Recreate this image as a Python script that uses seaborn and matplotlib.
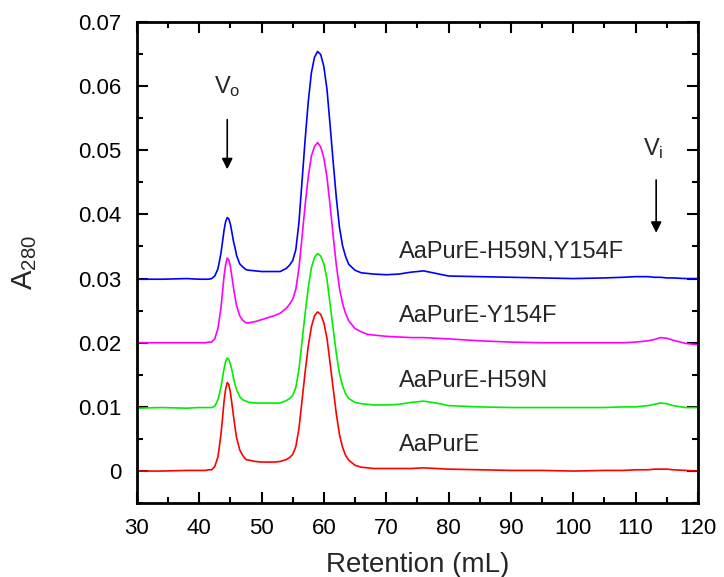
import pandas as pd
import seaborn as sns
from matplotlib import pyplot as plt
from matplotlib.ticker import MultipleLocator

# elution volume (mL), shared by all four traces
retention = [30, 34, 38, 40, 41, 41.5, 42, 42.5, 43, 43.25, 43.5, 43.75, 44, 44.25,
             44.5, 44.75, 45, 45.25, 45.5, 45.75, 46, 46.5, 47, 47.5, 48, 49, 50, 51,
             52, 53, 54, 54.5, 55, 55.5, 56, 56.5, 57, 57.5, 58, 58.5, 59, 59.5, 60,
             60.5, 61, 61.5, 62, 62.5, 63, 63.5, 64, 65, 66, 67, 68, 70, 72, 74, 76,
             78, 80, 85, 90, 95, 100, 105, 108, 110, 112, 113, 114, 115, 116, 118, 120]

# A280 (traces already offset in the original figure)
aapure = [0.0000, 0.0000, 0.0001, 0.0001, 0.0001, 0.0002, 0.0002, 0.0007, 0.0022, 0.0039,
          0.0058, 0.0083, 0.0110, 0.0128, 0.0138, 0.0135, 0.0123, 0.0105, 0.0086, 0.0068,
          0.0052, 0.0033, 0.0024, 0.0018, 0.0017, 0.0015, 0.0014, 0.0014, 0.0014, 0.0015,
          0.0018, 0.0021, 0.0026, 0.0038, 0.0066, 0.0110, 0.0155, 0.0195, 0.0225, 0.0242,
          0.0248, 0.0244, 0.0231, 0.0207, 0.0168, 0.0128, 0.0089, 0.0057, 0.0037, 0.0024,
          0.0017, 0.0009, 0.0006, 0.0005, 0.0004, 0.0004, 0.0004, 0.0004, 0.0005, 0.0004,
          0.0003, 0.0002, 0.0001, 0.0001, 0.0000, 0.0001, 0.0001, 0.0002, 0.0002, 0.0003,
          0.0003, 0.0003, 0.0002, 0.0001, 0.0000]

h59n = [0.0098, 0.0099, 0.0098, 0.0099, 0.0099, 0.0099, 0.0099, 0.0101, 0.0111, 0.0120,
        0.0131, 0.0146, 0.0160, 0.0171, 0.0176, 0.0174, 0.0167, 0.0157, 0.0145, 0.0135,
        0.0127, 0.0116, 0.0111, 0.0109, 0.0107, 0.0106, 0.0106, 0.0106, 0.0106, 0.0106,
        0.0110, 0.0113, 0.0118, 0.0130, 0.0158, 0.0202, 0.0246, 0.0286, 0.0317, 0.0333,
        0.0339, 0.0335, 0.0323, 0.0299, 0.0260, 0.0221, 0.0183, 0.0152, 0.0133, 0.0120,
        0.0113, 0.0107, 0.0105, 0.0104, 0.0103, 0.0103, 0.0104, 0.0107, 0.0109, 0.0106,
        0.0102, 0.0100, 0.0099, 0.0099, 0.0099, 0.0099, 0.0100, 0.0100, 0.0102, 0.0104,
        0.0106, 0.0105, 0.0102, 0.0099, 0.0099]

y154f = [0.0200, 0.0200, 0.0200, 0.0200, 0.0200, 0.0201, 0.0201, 0.0206, 0.0222, 0.0238,
         0.0255, 0.0279, 0.0305, 0.0322, 0.0332, 0.0329, 0.0319, 0.0303, 0.0286, 0.0271,
         0.0258, 0.0242, 0.0235, 0.0231, 0.0231, 0.0233, 0.0236, 0.0239, 0.0242, 0.0246,
         0.0254, 0.0260, 0.0268, 0.0283, 0.0316, 0.0365, 0.0415, 0.0459, 0.0491, 0.0506,
         0.0512, 0.0505, 0.0488, 0.0458, 0.0414, 0.0366, 0.0321, 0.0285, 0.0261, 0.0245,
         0.0234, 0.0222, 0.0217, 0.0213, 0.0212, 0.0210, 0.0209, 0.0208, 0.0208, 0.0207,
         0.0206, 0.0203, 0.0201, 0.0200, 0.0200, 0.0200, 0.0200, 0.0201, 0.0203, 0.0205,
         0.0208, 0.0207, 0.0204, 0.0199, 0.0197]

h59n_y154f = [0.0299, 0.0299, 0.0300, 0.0299, 0.0299, 0.0299, 0.0300, 0.0304, 0.0315, 0.0327,
              0.0340, 0.0358, 0.0376, 0.0389, 0.0395, 0.0393, 0.0385, 0.0372, 0.0358, 0.0348,
              0.0336, 0.0323, 0.0318, 0.0314, 0.0313, 0.0312, 0.0311, 0.0311, 0.0311, 0.0311,
              0.0316, 0.0321, 0.0328, 0.0345, 0.0387, 0.0452, 0.0517, 0.0576, 0.0621, 0.0645,
              0.0654, 0.0649, 0.0630, 0.0595, 0.0539, 0.0481, 0.0426, 0.0380, 0.0351, 0.0334,
              0.0322, 0.0313, 0.0309, 0.0308, 0.0307, 0.0306, 0.0307, 0.0310, 0.0312, 0.0308,
              0.0304, 0.0303, 0.0302, 0.0301, 0.0300, 0.0301, 0.0302, 0.0303, 0.0303, 0.0302,
              0.0302, 0.0301, 0.0301, 0.0300, 0.0300]

samples = ['AaPurE', 'AaPurE-H59N', 'AaPurE-Y154F', 'AaPurE-H59N,Y154F']
colors = ['#ff0000', '#00ee00', '#ff00ff', '#0000ff']
traces = [aapure, h59n, y154f, h59n_y154f]

df = pd.concat([pd.DataFrame({'retention': retention, 'a280': t, 'sample': s})
                for s, t in zip(samples, traces)], ignore_index=True)

sns.set_style("ticks")
plt.rcParams['font.family'] = ['Liberation Sans', 'DejaVu Sans']

fig = plt.figure(figsize=(7.24, 5.77), dpi=100)
ax = fig.add_axes([0.189, 0.128, 0.775, 0.834])

sns.lineplot(data=df, x='retention', y='a280', hue='sample',
             palette=dict(zip(samples, colors)), estimator=None, sort=False,
             linewidth=1.2, legend=False, ax=ax)

# sample names sit just above each baseline
for name, base in zip(samples, [0.0, 0.01, 0.02, 0.03]):
    ax.text(72, base + 0.0041, name, fontsize=17, va='center', ha='left')

# void / included volume markers
ax.text(44.5, 0.0600, r'$\mathregular{V_o}$', fontsize=17, ha='center', va='center')
ax.annotate('', xy=(44.5, 0.0466), xytext=(44.5, 0.0552),
            arrowprops=dict(arrowstyle='-|>', color='black', lw=1.2, mutation_scale=16))
ax.text(112.9, 0.0502, r'$\mathregular{V_i}$', fontsize=17, ha='center', va='center')
ax.annotate('', xy=(113.3, 0.0367), xytext=(113.3, 0.0458),
            arrowprops=dict(arrowstyle='-|>', color='black', lw=1.2, mutation_scale=16))

ax.set_xlim(30, 120)
ax.set_ylim(-0.005, 0.07)
ax.xaxis.set_major_locator(MultipleLocator(10))
ax.xaxis.set_minor_locator(MultipleLocator(5))
ax.yaxis.set_minor_locator(MultipleLocator(0.005))
ax.set_yticks([0, 0.01, 0.02, 0.03, 0.04, 0.05, 0.06, 0.07])
ax.set_yticklabels(['0', '0.01', '0.02', '0.03', '0.04', '0.05', '0.06', '0.07'])

ax.tick_params(which='both', direction='in', top=True, right=True, width=1.5,
               labelsize=16, colors='black')
ax.tick_params(which='major', length=8, pad=11)
ax.tick_params(which='minor', length=4)
for side in ax.spines.values():
    side.set_linewidth(2)
    side.set_color('black')

ax.set_xlabel('Retention (mL)', fontsize=20, labelpad=9)
ax.set_ylabel(r'$\mathregular{A_{280}}$', fontsize=21, labelpad=28)

fig.savefig('out.png', dpi=100)
